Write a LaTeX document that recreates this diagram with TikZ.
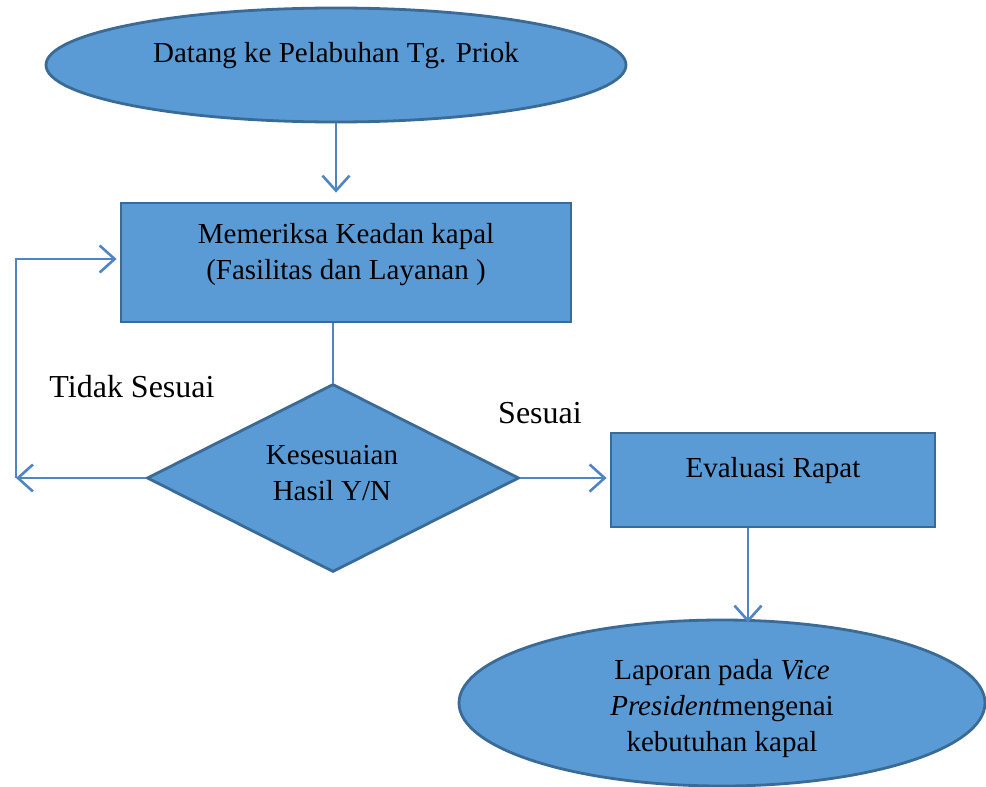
\documentclass[tikz,border=0pt]{standalone}
\usepackage{fontspec}
\setmainfont{Liberation Serif}
\usetikzlibrary{shapes.geometric,arrows.meta}
\definecolor{boxfill}{HTML}{5B9BD5}
\definecolor{boxedge}{HTML}{3A6A96}
\definecolor{linkcol}{HTML}{4F85C2}
\begin{document}
\begin{tikzpicture}[x=1pt,y=-1pt,
  shapebox/.style={fill=boxfill,draw=boxedge,line width=2.8pt,inner sep=0pt},
  txt/.style={font=\fontsize{29}{36}\selectfont,align=center,inner sep=0pt},
  tag/.style={font=\fontsize{32}{38}\selectfont,inner sep=0pt},
  link/.style={draw=linkcol,line width=2.6pt,-{Straight Barb[length=15pt,width=27pt,line width=2.6pt]}},
  plain/.style={draw=linkcol,line width=2.6pt}]
\useasboundingbox (0,0) rectangle (986,787);

% shapes
\node[shapebox,ellipse,minimum width=580pt,minimum height=114pt] (start) at (336,65) {};
\node[shapebox,rectangle,minimum width=450pt,minimum height=119pt] (check) at (346,262.5) {};
\node[shapebox,diamond,minimum width=372pt,minimum height=188pt] (dec) at (333,478) {};
\node[shapebox,rectangle,minimum width=324pt,minimum height=94pt] (eval) at (773,480) {};
\node[shapebox,ellipse,minimum width=526pt,minimum height=166pt] (finish) at (722,703) {};

% texts
\node[txt] (starttxt) at (336,56) {Datang ke Pelabuhan Tg. Priok};
\node[txt] (checktxt) at (346,255) {Memeriksa Keadan kapal\\(Fasilitas dan Layanan )};
\node[txt] (dectxt) at (332,473) {Kesesuaian\\Hasil Y/N};
\node[txt] (evaltxt) at (773,471) {Evaluasi Rapat};
\node[txt] (finishtxt) at (722,709) {Laporan pada \textit{Vice}\\\textit{President}mengenai\\kebutuhan kapal};
\node[tag] (nolabel) at (132,387) {Tidak Sesuai};
\node[tag] (yeslabel) at (540,413) {Sesuai};

% connectors
\coordinate (loopbot) at (16,478);
\coordinate (looptop) at (16,259);
\draw[link,shorten >=9pt] (start.south) -- (start.south |- check.north);
\draw[plain] (check.south -| dec.north) -- (dec.north);
\draw[link] (dec.west) -- (loopbot);
\draw[link] (loopbot) -- (looptop) -- ([xshift=-3pt]check.west |- looptop);
\draw[link] (dec.east) -- ([xshift=-3pt]dec.east -| eval.west);
\draw[link] ([xshift=-25pt]eval.south) -- ([xshift=-25pt,yshift=-4pt]eval.south |- finish.north);
\end{tikzpicture}
\end{document}
